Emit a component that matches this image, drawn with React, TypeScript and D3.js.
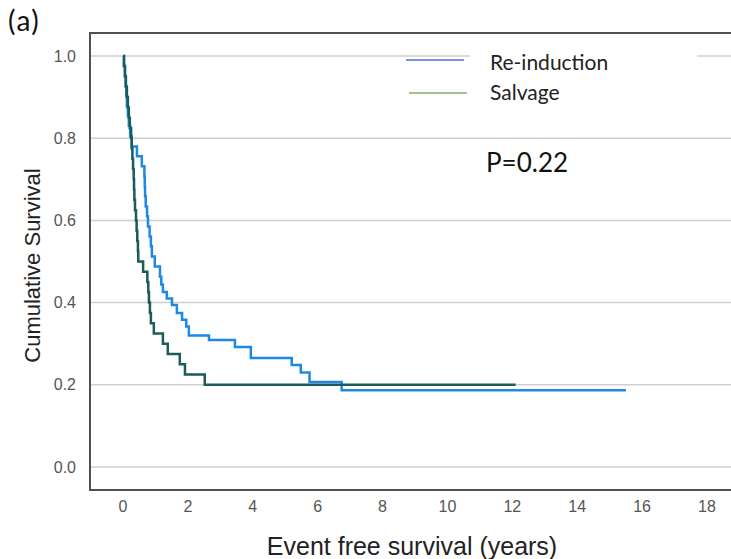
import React from "react";
import * as d3 from "d3";

const W = 731;
const H = 559;

const xTicks = [0, 2, 4, 6, 8, 10, 12, 14, 16, 18];
const yTicks = [0, 0.2, 0.4, 0.6, 0.8, 1.0];

const reinductionTime = [0, 0.03, 0.06, 0.08, 0.1, 0.12, 0.15, 0.18, 0.22, 0.27, 0.43, 0.58, 0.66, 0.67, 0.68, 0.7, 0.74, 0.77, 0.82, 0.86, 0.89, 0.98, 1.14, 1.18, 1.23, 1.35, 1.51, 1.66, 1.82, 1.95, 2.03, 2.65, 3.45, 3.94, 5.2, 5.48, 5.75, 6.74, 15.5];
const reinductionSurv = [1.0, 0.976, 0.952, 0.927, 0.903, 0.878, 0.854, 0.83, 0.805, 0.78, 0.756, 0.732, 0.707, 0.683, 0.659, 0.634, 0.61, 0.585, 0.561, 0.537, 0.512, 0.488, 0.463, 0.444, 0.426, 0.41, 0.394, 0.375, 0.358, 0.342, 0.32, 0.309, 0.292, 0.265, 0.248, 0.23, 0.207, 0.187, 0.187];

const salvageTime = [0, 0.03, 0.06, 0.09, 0.12, 0.15, 0.18, 0.21, 0.25, 0.27, 0.29, 0.31, 0.33, 0.34, 0.35, 0.37, 0.4, 0.42, 0.44, 0.46, 0.47, 0.62, 0.75, 0.78, 0.8, 0.83, 0.86, 0.95, 1.23, 1.38, 1.75, 1.91, 2.52, 12.1];
const salvageSurv = [1.0, 0.975, 0.95, 0.925, 0.9, 0.875, 0.85, 0.825, 0.8, 0.775, 0.75, 0.725, 0.7, 0.675, 0.65, 0.625, 0.6, 0.575, 0.55, 0.525, 0.5, 0.475, 0.45, 0.425, 0.4, 0.375, 0.35, 0.325, 0.3, 0.275, 0.25, 0.225, 0.2, 0.2];

const legendLabels = ["Re-induction", "Salvage"];
const pValueText = "P=0.22";

export default function App() {
  const left = 90, top = 33, bottom = 490, right = 740;
  const x = d3.scaleLinear().domain([0, 18]).range([123, 707]);
  const y = d3.scaleLinear().domain([0, 1]).range([467, 56]);

  const line = d3
    .line<[number, number]>()
    .x((d) => x(d[0]))
    .y((d) => y(d[1]))
    .curve(d3.curveStepAfter);

  const reData: [number, number][] = reinductionTime.map((t, i) => [t, reinductionSurv[i]]);
  const saData: [number, number][] = salvageTime.map((t, i) => [t, salvageSurv[i]]);

  const axisFont = "'Liberation Sans', Arial, sans-serif";
  const calFont = "Lato, 'Open Sans', sans-serif";

  return (
    <svg
      width={W}
      height={H}
      style={{ position: "absolute", left: 0, top: 0, background: "#fff" }}
    >
      <rect x={0} y={0} width={W} height={H} fill="#fff" />
      <text x={8} y={31} fontFamily={calFont} fontSize={28} letterSpacing={1.5} fill="#111">(a)</text>

      {yTicks.map((v) => (
        <line key={"g" + v} x1={left} x2={right} y1={y(v)} y2={y(v)} stroke="#cfcfcf" strokeWidth={1.5} />
      ))}
      {/* legend background hiding the grid */}
      <rect x={470} y={42} width={227} height={62} fill="#fff" />

      {/* frame */}
      <path d={`M${right},${top}H${left}V${bottom}H${right}`} fill="none" stroke="#505050" strokeWidth={2} />

      {yTicks.map((v) => (
        <text key={"yt" + v} x={76} y={y(v)} dy="0.35em" textAnchor="end" fontFamily={axisFont} fontSize={16} fill="#555">
          {d3.format(".1f")(v)}
        </text>
      ))}
      {xTicks.map((v) => (
        <text key={"xt" + v} x={x(v)} y={512} textAnchor="middle" fontFamily={axisFont} fontSize={16} fill="#555">
          {v}
        </text>
      ))}

      <text x={412} y={555} textAnchor="middle" fontFamily={axisFont} fontSize={25} fill="#222">
        Event free survival (years)
      </text>
      <text transform={`translate(40,${(top + bottom) / 2 + 4}) rotate(-90)`} textAnchor="middle" fontFamily={axisFont} fontSize={22} fill="#222">
        Cumulative Survival
      </text>

      <path d={line(reData) || ""} fill="none" stroke="#1e88e5" strokeWidth={2.5} />
      <path d={line(saData) || ""} fill="none" stroke="#1b5b5a" strokeWidth={2.5} />

      {/* legend */}
      <line x1={406} x2={464} y1={60} y2={60} stroke="#4a6fd8" strokeWidth={1.5} />
      <line x1={409} x2={467} y1={93} y2={93} stroke="#8aab6a" strokeWidth={1.5} />
      <text x={490} y={70} fontFamily={calFont} fontSize={21} fill="#222">{legendLabels[0]}</text>
      <text x={490} y={100} fontFamily={calFont} fontSize={21} fill="#222">{legendLabels[1]}</text>

      <text x={486} y={172} fontFamily={calFont} fontSize={26} fill="#111">{pValueText}</text>
    </svg>
  );
}
